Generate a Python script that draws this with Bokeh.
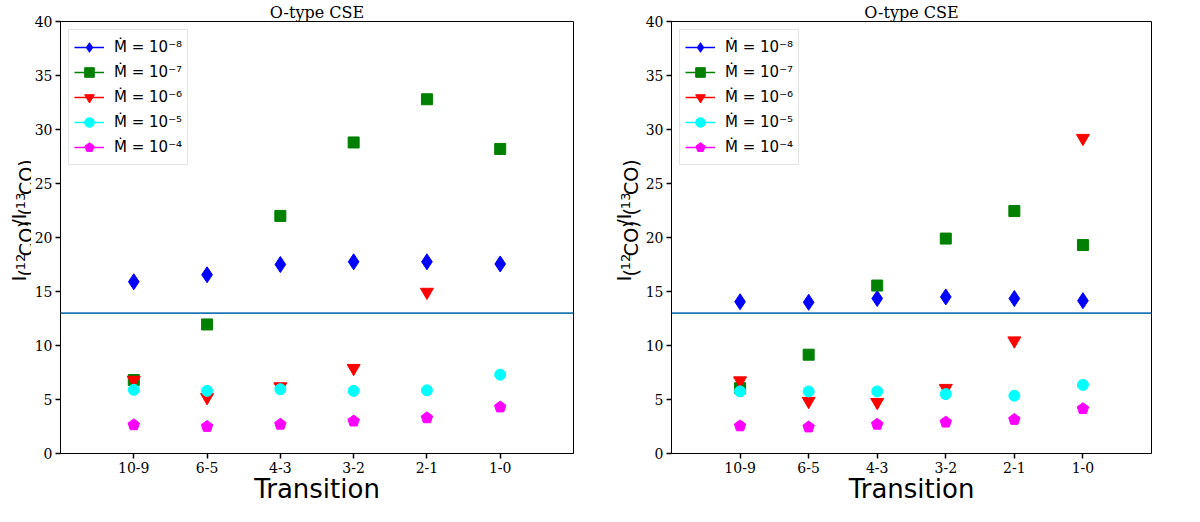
import math
from bokeh.plotting import figure
from bokeh.layouts import row
from bokeh.models import Range1d, FixedTicker, Span, Legend, LegendItem
from bokeh.core.properties import value
from bokeh.embed import file_html
from bokeh.resources import INLINE

transitions = ["10-9", "6-5", "4-3", "3-2", "2-1", "1-0"]
nan = float("nan")

# left panel
left_m8 = [15.9, 16.55, 17.5, 17.75, 17.75, 17.55]
left_m7 = [6.8, 11.95, 22.0, 28.8, 32.8, 28.2]
left_m6 = [6.8, 5.2, 6.2, 7.9, 14.95, nan]
left_m5 = [5.9, 5.8, 5.95, 5.8, 5.85, 7.3]
left_m4 = [2.65, 2.5, 2.7, 3.0, 3.3, 4.3]

# right panel
right_m8 = [14.05, 14.0, 14.35, 14.5, 14.35, 14.15]
right_m7 = [6.05, 9.15, 15.55, 19.9, 22.45, 19.3]
right_m6 = [6.75, 4.85, 4.75, 6.05, 10.45, 29.2]
right_m5 = [5.75, 5.75, 5.75, 5.5, 5.35, 6.35]
right_m4 = [2.55, 2.45, 2.7, 2.9, 3.15, 4.15]

ref_ratio = 13.0
yticks = [0, 5, 10, 15, 20, 25, 30, 35, 40]
panel_title = "O-type CSE"
xlabel = "Transition"
legend_labels = ["Ṁ = 10⁻⁸", "Ṁ = 10⁻⁷", "Ṁ = 10⁻⁶", "Ṁ = 10⁻⁵", "Ṁ = 10⁻⁴"]
colors = ["blue", "green", "red", "cyan", "magenta"]

H = 506
TOP = 20      # title panel height (approx)
BOTTOM = 54   # axis panel height (approx)

EM = {"I": 0.295, "(": 0.39, ")": 0.39, "C": 0.698, "O": 0.787, "/": 0.337,
      "1": 0.636, "2": 0.636, "3": 0.636}


def ylabel_fig(width, base):
    # narrow strip holding the rotated y label I_(12CO)/I_(13CO)
    f = figure(width=width, height=H, x_range=Range1d(0, width), y_range=Range1d(0, H),
               output_backend="svg", toolbar_location=None, min_border=0)
    f.axis.visible = False
    f.grid.visible = False
    f.outline_line_color = None
    parts = [("I", 19, 0), ("(", 19, 7), ("12", 13, 2), ("CO)", 19, 7),
             ("/I", 19, 0), ("(", 19, 7), ("13", 13, 2), ("CO)", 19, 7)]
    total = sum(sum(EM[c] for c in t) * s for t, s, _ in parts)
    center = H - (TOP + (H - TOP - BOTTOM) / 2)
    along = center - total / 2
    for txt, size, shift in parts:
        f.text(x=[base + shift], y=[along], text=[txt], angle=math.pi / 2,
               text_font=value("DejaVu Sans"), text_font_size=value(f"{size}px"),
               text_baseline="alphabetic", text_align="left", text_color="black")
        along += sum(EM[c] for c in txt) * size
    return f


def make_panel(series, width, border_left, border_right):
    p = figure(width=width, height=H, x_range=Range1d(0, 7), y_range=Range1d(0, 40),
               output_backend="svg", toolbar_location=None,
               min_border_left=border_left, min_border_right=border_right,
               min_border_top=0, min_border_bottom=0)
    p.title.text = panel_title
    p.title.align = "center"
    p.title.text_font = "DejaVu Serif"
    p.title.text_font_size = "16px"
    p.title.text_font_style = "normal"
    p.title.text_color = "black"
    p.title.standoff = 0
    p.grid.visible = False
    p.outline_line_color = "black"
    p.outline_line_width = 1

    xs = list(range(1, len(transitions) + 1))
    p.xaxis.ticker = FixedTicker(ticks=xs)
    p.xaxis.major_label_overrides = {x: t for x, t in zip(xs, transitions)}
    p.yaxis.ticker = FixedTicker(ticks=yticks)
    for ax in (p.xaxis, p.yaxis):
        ax.major_label_text_font = "DejaVu Serif"
        ax.major_label_text_font_size = "14px"
        ax.major_label_text_color = "black"
        ax.major_tick_out = 5
        ax.major_tick_in = 0
        ax.minor_tick_out = 0
        ax.minor_tick_in = 0
        ax.major_tick_line_color = "black"
        ax.major_tick_line_width = 1.5
        ax.axis_line_color = "black"
        ax.major_label_standoff = 3
    p.xaxis.axis_label = xlabel
    p.xaxis.axis_label_text_font = "DejaVu Sans"
    p.xaxis.axis_label_text_font_size = "26px"
    p.xaxis.axis_label_text_font_style = "normal"
    p.xaxis.axis_label_text_color = "black"
    p.xaxis.axis_label_standoff = -2

    p.add_layout(Span(location=ref_ratio, dimension="width", line_color="#1f77b4", line_width=1.8))

    m8, m7, m6, m5, m4 = series
    items = []
    l = p.line(x=[nan], y=[nan], line_color=colors[0], line_width=1.5)
    r = p.scatter(xs, m8, marker="diamond", size=16, fill_color=colors[0], line_color=colors[0])
    items.append(LegendItem(label=legend_labels[0], renderers=[l, r]))
    l = p.line(x=[nan], y=[nan], line_color=colors[1], line_width=1.5)
    r = p.scatter(xs, m7, marker="square", size=11, fill_color=colors[1], line_color=colors[1])
    items.append(LegendItem(label=legend_labels[1], renderers=[l, r]))
    l = p.line(x=[nan], y=[nan], line_color=colors[2], line_width=1.5)
    r = p.scatter(xs, m6, marker="inverted_triangle", size=13, fill_color=colors[2], line_color=colors[2])
    items.append(LegendItem(label=legend_labels[2], renderers=[l, r]))
    l = p.line(x=[nan], y=[nan], line_color=colors[3], line_width=1.5)
    r = p.scatter(xs, m5, marker="circle", size=11, fill_color=colors[3], line_color=colors[3])
    items.append(LegendItem(label=legend_labels[3], renderers=[l, r]))
    l = p.line(x=[nan], y=[nan], line_color=colors[4], line_width=1.5)
    r = p.ngon(x=xs, y=m4, radius=6, radius_units="screen", n=5,
               fill_color=colors[4], line_color=colors[4])
    items.append(LegendItem(label=legend_labels[4], renderers=[l, r]))

    legend = Legend(items=items, location="top_left", margin=8, padding=5, spacing=1,
                    glyph_width=30, glyph_height=24, label_standoff=10,
                    label_text_font="DejaVu Sans", label_text_font_size="15px",
                    label_text_color="black",
                    border_line_color="#cccccc", background_fill_alpha=0.8)
    p.add_layout(legend)
    return p


lab1 = ylabel_fig(31, 18)
left = make_panel([left_m8, left_m7, left_m6, left_m5, left_m4], 551, 24, 9)
lab2 = ylabel_fig(60, 41)
right = make_panel([right_m8, right_m7, right_m6, right_m5, right_m4], 539, 27, 30)

layout = row(lab1, left, lab2, right)
open("out.html", "w").write(file_html(layout, INLINE))
